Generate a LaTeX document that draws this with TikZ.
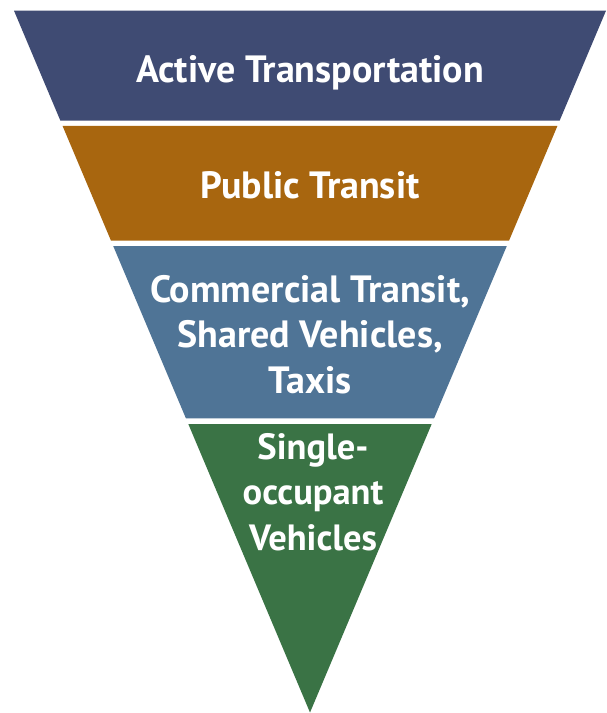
\documentclass[tikz,border=0pt]{standalone}
\usepackage{fontspec}
\setmainfont{PT Sans}
\definecolor{bandA}{HTML}{3F4B73}
\definecolor{bandB}{HTML}{A8660F}
\definecolor{bandC}{HTML}{4F7496}
\definecolor{bandD}{HTML}{3A7345}
\begin{document}
\begin{tikzpicture}[x=1bp,y=-1bp,
  lbl/.style={text=white,font=\bfseries\fontsize{38bp}{45.5bp}\selectfont,align=center,inner sep=0pt,anchor=base},
  lblsmall/.style={lbl,font=\bfseries\fontsize{36.5bp}{45.5bp}\selectfont}]
\useasboundingbox (0,0) rectangle (607,713);
\fill[white] (0,0) rectangle (607,713);
\fill[bandA] (14,10.7) -- (606,10.7) -- (559.6,120.7) -- (60.4,120.7) -- cycle;
\fill[bandB] (62.6,126) -- (557.4,126) -- (509.0,240.7) -- (111.0,240.7) -- cycle;
\fill[bandC] (113.2,246) -- (506.8,246) -- (434.1,418.3) -- (185.9,418.3) -- cycle;
\fill[bandD] (188.3,424) -- (431.7,424) -- (310,712.5) -- cycle;
\node[lbl] (t1) at (310,82.7) {Active Transportation};
\node[lbl] (t2) at (310,198.3) {Public Transit};
\node[lbl] (t3) at (310,393.3) {Commercial Transit,\\Shared Vehicles,\\Taxis};
\node[lblsmall] (t4) at (313,550) {Single-\\occupant\\Vehicles};
\end{tikzpicture}
\end{document}
